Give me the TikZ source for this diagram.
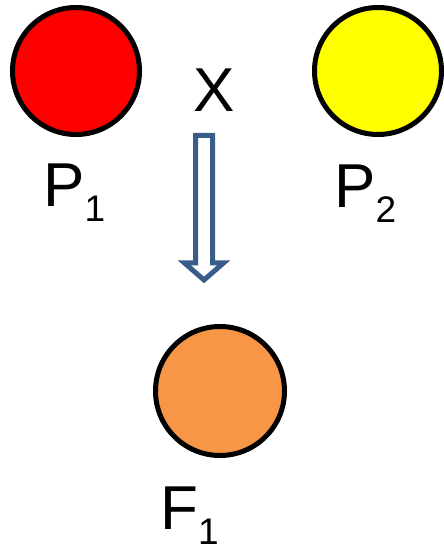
\documentclass[tikz,border=0pt]{standalone}
\usepackage{fontspec}
\setmainfont{Liberation Sans}
\definecolor{pred}{RGB}{255,0,0}
\definecolor{pyellow}{RGB}{255,255,0}
\definecolor{forange}{RGB}{247,150,70}
\definecolor{arrowblue}{RGB}{56,93,138}
\newcommand{\bigtxt}{\fontsize{62}{62}\selectfont}
\newcommand{\subtxt}[1]{\raisebox{-15pt}{\fontsize{37}{37}\selectfont #1}}
\begin{document}
\begin{tikzpicture}[x=1pt,y=1pt,
  plant/.style={circle, draw=black, line width=5pt, inner sep=0pt},
  lbl/.style={anchor=base west, inner sep=0pt, font=\bigtxt}]
\useasboundingbox (0,0) rectangle (444,547);

% parents and offspring
\node[plant, fill=pred,    minimum size=127pt] (red)    at (76,476)  {};
\node[plant, fill=pyellow, minimum size=127pt] (yellow) at (378,476) {};
\node[plant, fill=forange, minimum size=129pt] (orange) at (220,156) {};

% labels
\node[lbl] (p1) at (43,340) {P\subtxt{1}};
\node[lbl] (p2) at (334,339) {P\subtxt{2}};
\node[lbl] (x)  at (193,435) {X};
\node[lbl] (f1) at (160,17) {F\subtxt{1}};

% hollow block arrow pointing down
\coordinate (atop) at (204,411.5);
\draw[arrowblue, line width=5pt, fill=white, line join=miter]
  (atop) ++(-8.5,0) -- ++(17,0) -- ++(0,-127.5) -- ++(11,0)
  -- (204,267) -- (184.5,284) -- ++(11,0) -- cycle;
\end{tikzpicture}
\end{document}
